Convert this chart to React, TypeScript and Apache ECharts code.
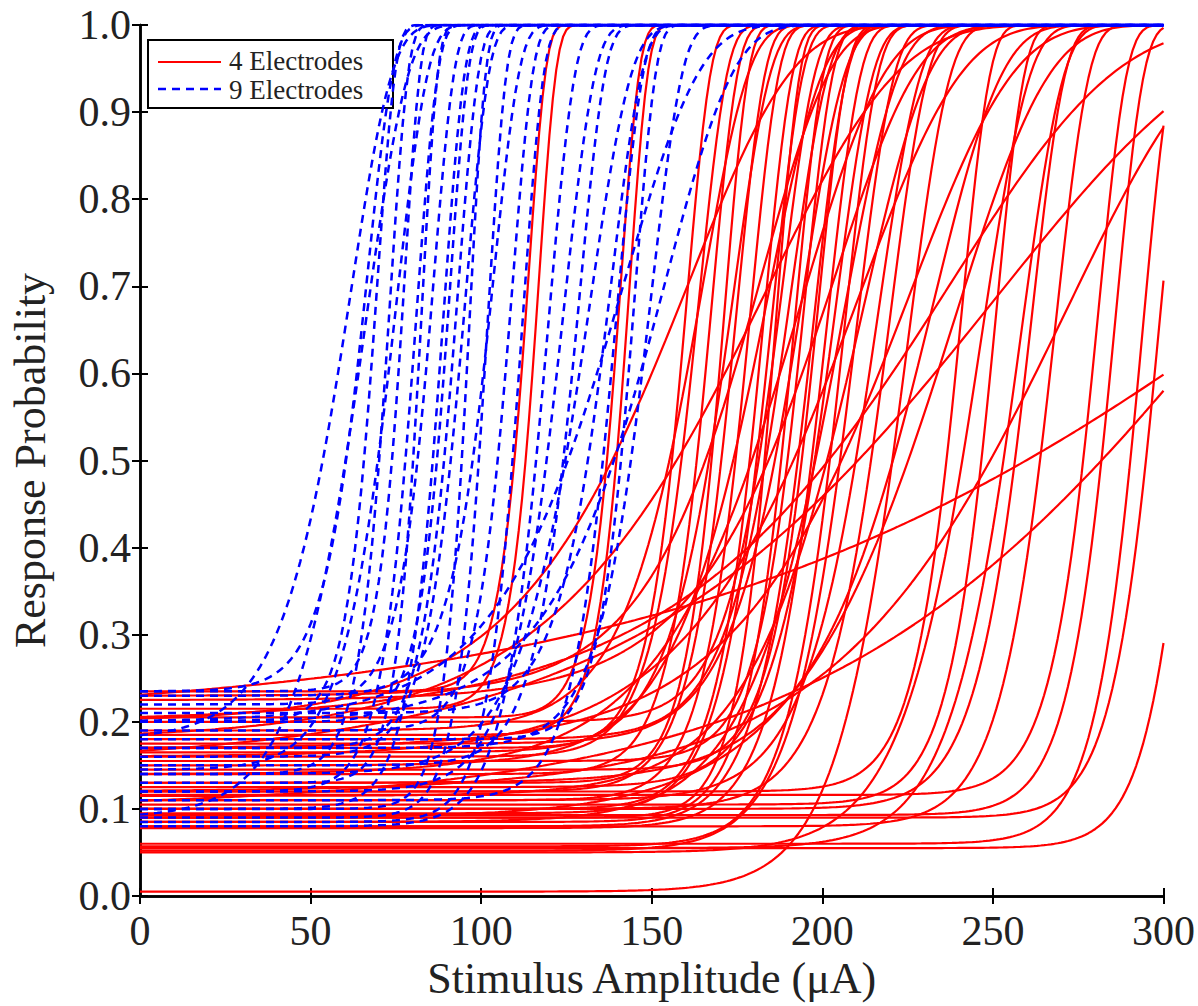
import React, { useEffect, useRef } from "react";
import * as echarts from "echarts";

// Axis ticks
const xTicks = [0, 50, 100, 150, 200, 250, 300];
const yTicks = ["0.0", "0.1", "0.2", "0.3", "0.4", "0.5", "0.6", "0.7", "0.8", "0.9", "1.0"];

// Legend entries
const legendNames = ["4 Electrodes", "9 Electrodes"];

// 4 electrodes (red, solid): floor probability, amplitude at 63% of the rise, rise width (µA)
const redFloor = [
  0.235, 0.215, 0.205, 0.185, 0.17, 0.16, 0.14, 0.13, 0.12, 0.11,
  0.1, 0.095, 0.09, 0.2, 0.18, 0.085, 0.175, 0.155, 0.08, 0.145,
  0.078, 0.125, 0.057, 0.052, 0.11, 0.1, 0.09, 0.16, 0.05, 0.2,
  0.15, 0.12, 0.2, 0.1, 0.12, 0.105, 0.1, 0.055, 0.08, 0.116,
  0.093, 0.06, 0.09, 0.055, 0.005, 0.23, 0.14, 0.17, 0.13, 0.085,
  0.19, 0.15, 0.115, 0.225, 0.165, 0.2, 0.18,
];
const redMid = [
  114, 117, 141, 143.5, 160.5, 164, 167.7, 171.5, 175, 179,
  183, 185.3, 186.5, 188.5, 191, 192, 194.5, 195, 197.5, 199,
  201.5, 204, 206.5, 210, 216.5, 220, 239, 211, 247, 238,
  251, 272, 339, 319, 241, 251, 261.5, 258.5, 268.5, 281,
  286, 294, 299, 310, 225, 182.5, 194, 226, 232.5, 206,
  165, 184, 212, 204, 174, 161, 184,
];
const redWidth = [
  5, 5, 5.4, 5.4, 6.75, 8.1, 7.4, 6.75, 8.1, 8.1,
  8.1, 8.8, 6.75, 9.5, 10.8, 8.1, 12.2, 8.1, 9.5, 8.1,
  9.5, 10.8, 9.5, 10.8, 12.2, 10.8, 27, 29.7, 13.5, 48,
  64, 40, 105, 70, 8.1, 8.1, 9.5, 12, 9.5, 8.1,
  8.1, 8.1, 8.1, 8, 12, 20, 24, 30, 20, 16,
  13.5, 16, 19, 24, 10.8, 30, 38,
];

// 9 electrodes (blue, dashed): floor probability, amplitude at 63% of the rise, rise width (µA)
const blueFloor = [
  0.18, 0.235, 0.2, 0.14, 0.12, 0.22, 0.1, 0.17, 0.09, 0.19,
  0.08, 0.15, 0.21, 0.11, 0.2, 0.18, 0.235, 0.13, 0.2, 0.1,
  0.16, 0.085, 0.23, 0.145, 0.09, 0.12, 0.17, 0.14, 0.2,
];
const blueMid = [
  62, 66.8, 69.6, 73.3, 81.2, 86.2, 89, 93.2, 102, 109.2,
  119.8, 128.8, 138.3, 139.8, 154, 145.2, 77.7, 82.7, 91, 96.7,
  95.5, 112.2, 103.8, 75.3, 66.4, 124.3, 150, 132, 142,
];
const blueWidth = [
  12, 7.5, 5.25, 5.25, 6, 6, 6, 6, 5.25, 6,
  7.5, 7.5, 9, 7.5, 20, 6, 4.5, 4.5, 5.25, 4.5,
  6.75, 6, 7.5, 9, 12, 9, 9, 12, 22,
];

const FONT = "'Liberation Serif', 'Times New Roman', serif";
const RED = "#ff0000";
const BLUE = "#0000ff";

function curve(floor: number, mid: number, width: number): number[][] {
  const pts: number[][] = [];
  for (let x = 0; x <= 300; x += 1) {
    const rise = 1 - Math.exp(-Math.exp((x - mid) / width));
    pts.push([x, floor + (1 - floor) * rise]);
  }
  return pts;
}

export default function App() {
  const ref = useRef<HTMLDivElement>(null);

  useEffect(() => {
    if (!ref.current) return;
    const chart = echarts.init(ref.current, undefined, { renderer: "svg" });

    const axisLine = { show: true, lineStyle: { color: "#000", width: 2.5 } };
    const axisTick = { show: true, inside: true, length: 8, lineStyle: { color: "#000", width: 2 } };

    const redSeries = redFloor.map((f, i) => ({
      type: "line",
      name: legendNames[0],
      data: curve(f, redMid[i], redWidth[i]),
      showSymbol: false,
      symbol: "none",
      silent: true,
      z: 2,
      lineStyle: { color: RED, width: 2.2 },
      itemStyle: { color: RED },
    }));
    const blueSeries = blueFloor.map((f, i) => ({
      type: "line",
      name: legendNames[1],
      data: curve(f, blueMid[i], blueWidth[i]),
      showSymbol: false,
      symbol: "none",
      silent: true,
      z: 3,
      lineStyle: { color: BLUE, width: 2.5, type: [8, 6] },
      itemStyle: { color: BLUE },
    }));

    chart.setOption({
      animation: false,
      textStyle: { fontFamily: FONT },
      grid: { left: 137, right: 34, top: 25, bottom: 110, containLabel: false },
      legend: { show: false },
      graphic: [
        {
          type: "group",
          z: 100,
          children: [
            {
              type: "rect",
              shape: { x: 148, y: 40, width: 245, height: 68 },
              style: { fill: "#fff", stroke: "#000", lineWidth: 2 },
            },
            {
              type: "line",
              shape: { x1: 158, y1: 62, x2: 221, y2: 62 },
              style: { stroke: RED, lineWidth: 2 },
            },
            {
              type: "line",
              shape: { x1: 158, y1: 89, x2: 221, y2: 89 },
              style: { stroke: BLUE, lineWidth: 2.5, lineDash: [8, 6] },
            },
            {
              type: "text",
              x: 229,
              y: 61,
              style: {
                text: legendNames[0],
                fontFamily: FONT,
                fontSize: 27,
                lineHeight: 27,
                fill: "#222",
                verticalAlign: "middle",
                align: "left",
              },
            },
            {
              type: "text",
              x: 229,
              y: 90,
              style: {
                text: legendNames[1],
                fontFamily: FONT,
                fontSize: 27,
                lineHeight: 27,
                fill: "#222",
                verticalAlign: "middle",
                align: "left",
              },
            },
          ],
        },
      ],
      xAxis: [
        {
          type: "value",
          min: 0,
          max: 300,
          interval: 50,
          position: "bottom",
          axisLine,
          axisTick,
          splitLine: { show: false },
          axisLabel: {
            fontFamily: FONT,
            fontSize: 42,
            color: "#222",
            margin: 14,
            formatter: (v: number) => (xTicks.includes(v) ? String(v) : ""),
          },
          name: "Stimulus Amplitude (μA)",
          nameLocation: "middle",
          nameGap: 60,
          nameTextStyle: { fontFamily: FONT, fontSize: 44, color: "#222" },
        },
        {
          type: "value",
          min: 0,
          max: 300,
          interval: 50,
          position: "top",
          axisLine,
          axisTick,
          splitLine: { show: false },
          axisLabel: { show: false },
        },
      ],
      yAxis: [
        {
          type: "value",
          min: 0,
          max: 1,
          interval: 0.1,
          position: "left",
          axisLine,
          axisTick,
          splitLine: { show: false },
          axisLabel: {
            fontFamily: FONT,
            fontSize: 42,
            color: "#222",
            margin: 9,
            formatter: (v: number) => yTicks[Math.round(v * 10)] ?? "",
          },
          name: "Response Probability",
          nameLocation: "middle",
          nameGap: 88,
          nameTextStyle: { fontFamily: FONT, fontSize: 44, color: "#222" },
        },
        {
          type: "value",
          min: 0,
          max: 1,
          interval: 0.1,
          position: "right",
          axisLine,
          axisTick,
          splitLine: { show: false },
          axisLabel: { show: false },
        },
      ],
      series: [...redSeries, ...blueSeries],
    });

    return () => chart.dispose();
  }, []);

  return (
    <div
      ref={ref}
      style={{ position: "absolute", left: 0, top: 0, width: 1198, height: 1006, background: "#fff" }}
    />
  );
}
